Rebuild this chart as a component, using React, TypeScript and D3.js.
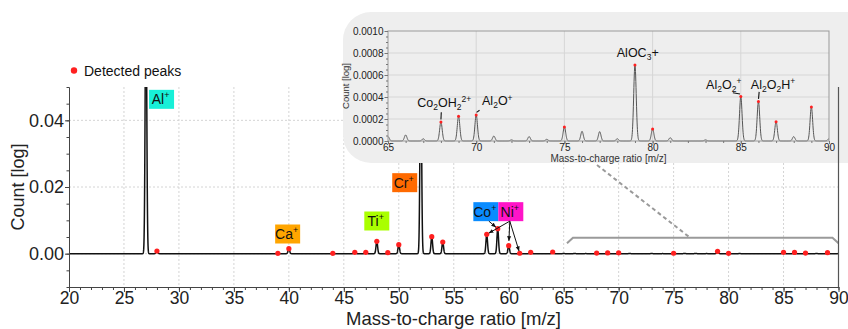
import { useEffect, useRef } from 'react'
import * as d3 from 'd3'

// spectrum: peak centres (m/z) and their counts
const PEAK_MZ = [27, 28, 39, 40, 44, 46, 47, 48, 49, 50, 52, 53, 54, 58, 59, 60, 61, 62, 64,
  65, 66, 67, 68, 69, 70, 71, 72, 73, 74, 75, 76, 77, 78, 79, 80, 81, 83, 85, 86, 87, 88, 89, 90]
const PEAK_COUNT = [0.08, 0.0008, 0.0001, 0.0015, 0.0001, 0.0004, 0.0004, 0.0037, 0.0003, 0.0027, 0.06, 0.0051, 0.0035, 0.0058, 0.0075, 0.0024, 0.00012, 0.0004, 0.0005,
  0.00004, 0.000055, 0.00002, 0.000173, 0.000225, 0.000237, 0.000045, 0.00001, 0.00004, 0.000015, 0.000128, 0.000088, 0.000085, 0.00002, 0.00069, 0.00011, 0.00003, 0.00001, 0.000405, 0.00036, 0.000176, 0.00004, 0.00031, 0.00002]
const DETECTED_MZ = [28, 39, 40, 44, 46, 47, 48, 49, 50, 53, 54, 58, 59, 60, 61, 62, 64, 68, 69, 70, 75, 79, 80, 85, 86, 87, 89]

const X_TICKS = [20, 25, 30, 35, 40, 45, 50, 55, 60, 65, 70, 75, 80, 85, 90]
const Y_TICKS = [0, 0.02, 0.04]
const INSET_X_TICKS = [65, 70, 75, 80, 85, 90]
const INSET_Y_TICKS = [0, 0.0002, 0.0004, 0.0006, 0.0008, 0.001]

const ION_NAMES = ['Al', 'Ca', 'Ti', 'Cr', 'Co', 'Ni']
const ION_COLORS = ['#17f0d8', '#ffa500', '#aaff00', '#ff6a00', '#0a8cff', '#ff14c8']
const ION_ARROW_FROM = ['Co', 'Ni', 'Ni', 'Ni']
const ION_ARROW_TO = [59, 58, 60, 61]

type Seg = [string, number]
const INSET_NAMES: Seg[][] = [
  [['Co', 0], ['2', -1], ['OH', 0], ['2', -1], ['2+', 1]],
  [['Al', 0], ['2', -1], ['O', 0], ['+', 1]],
  [['AlOC', 0], ['3', -1], ['+', 0]],
  [['Al', 0], ['2', -1], ['O', 0], ['2', -1], ['+', 1]],
  [['Al', 0], ['2', -1], ['O', 0], ['2', -1], ['H', 0], ['+', 1]],
]
const INSET_NAME_PEAK = [68, 70, 79, 85, 86]

const FONT = "'Liberation Sans', Arial, sans-serif"
const SIGMA = 0.072

function countAt(mz: number) {
  return d3.sum(PEAK_MZ, (c, i) => PEAK_COUNT[i] * Math.exp(-((mz - c) ** 2) / (2 * SIGMA * SIGMA)))
}
function peakOf(mz: number) { return PEAK_COUNT[PEAK_MZ.indexOf(mz)] }

function rich(sel: d3.Selection<SVGTextElement, unknown, null, undefined>, segs: Seg[], size: number) {
  let cur = 0
  segs.forEach(([t, lvl]) => {
    const target = lvl === 1 ? -size * 0.38 : lvl === -1 ? size * 0.22 : 0
    sel.append('tspan').attr('dy', target - cur).attr('font-size', lvl ? size * 0.68 : size).text(t)
    cur = target
  })
}

export default function App() {
  const svgRef = useRef<SVGSVGElement>(null)

  useEffect(() => {
    if (!svgRef.current) return
    const svg = d3.select(svgRef.current)
    svg.selectAll('*').remove()
    svg.attr('font-family', FONT)

    const x = d3.scaleLinear().domain([20, 90]).range([69, 838.5])
    const y = d3.scaleLinear().domain([-0.01, 0.05]).range([287, 87])
    const defs = svg.append('defs')
    defs.append('clipPath').attr('id', 'mainClip').append('rect')
      .attr('x', 69).attr('y', 87).attr('width', 770).attr('height', 200)
    defs.append('marker').attr('id', 'arr').attr('viewBox', '0 0 10 10').attr('refX', 9).attr('refY', 5)
      .attr('markerWidth', 5).attr('markerHeight', 5).attr('orient', 'auto')
      .append('path').attr('d', 'M0,1 L10,5 L0,9 z').attr('fill', '#111')

    // grid
    const grid = svg.append('g')
    X_TICKS.slice(1, -1).forEach(v => grid.append('line').attr('x1', x(v)).attr('x2', x(v)).attr('y1', 87).attr('y2', 287))
    Y_TICKS.forEach(v => grid.append('line').attr('x1', 69).attr('x2', 838).attr('y1', y(v)).attr('y2', y(v)))
    grid.selectAll('line').attr('stroke', '#d4d4d4').attr('stroke-dasharray', '2,2').attr('stroke-width', 1)

    // spectrum
    const xs = d3.range(20, 90.0001, 0.01)
    const line = d3.line<number>().x(v => x(v)).y(v => y(countAt(v)))
    svg.append('path').datum(xs).attr('clip-path', 'url(#mainClip)')
      .attr('fill', 'none').attr('stroke', '#111').attr('stroke-width', 1.5).attr('d', line)

    // detected peaks
    svg.append('g').selectAll('circle').data(DETECTED_MZ).join('circle')
      .attr('cx', d => x(d)).attr('cy', d => y(peakOf(d))).attr('r', 2.6).attr('fill', '#ff2020')

    // axes
    const axStyle = (g: d3.Selection<SVGGElement, unknown, null, undefined>) => {
      g.selectAll('path,line').attr('stroke', '#444')
      g.selectAll('text').attr('fill', '#222').attr('font-family', FONT)
    }
    svg.append('g').attr('transform', 'translate(0,287)')
      .call(d3.axisBottom(x).tickValues(d3.range(20, 91, 1)).tickSize(3).tickFormat(() => '').tickSizeOuter(0)).call(axStyle)
    svg.append('g').attr('transform', 'translate(0,287)')
      .call(d3.axisBottom(x).tickValues(X_TICKS).tickSize(5).tickPadding(0).tickSizeOuter(0)).call(axStyle)
      .selectAll('text').attr('font-size', 17.5)
    svg.append('g').attr('transform', 'translate(69,0)')
      .call(d3.axisLeft(y).tickValues(d3.range(-0.01, 0.0501, 0.005)).tickSize(2.5).tickFormat(() => '').tickSizeOuter(0)).call(axStyle)
    svg.append('g').attr('transform', 'translate(69,0)')
      .call(d3.axisLeft(y).tickValues(Y_TICKS).tickSize(4).tickPadding(1).tickFormat(d3.format('.2f')).tickSizeOuter(0)).call(axStyle)
      .selectAll('text').attr('font-size', 18)

    svg.append('text').attr('x', 453.5).attr('y', 325).attr('text-anchor', 'middle')
      .attr('font-size', 18.5).attr('fill', '#222').text('Mass-to-charge ratio [m/z]')
    svg.append('text').attr('transform', 'rotate(-90)').attr('x', -187).attr('y', 24).attr('text-anchor', 'middle')
      .attr('font-size', 18).attr('fill', '#222').text('Count [log]')

    // legend
    svg.append('circle').attr('cx', 74).attr('cy', 70.5).attr('r', 3.2).attr('fill', '#ff2020')
    svg.append('text').attr('x', 84).attr('y', 75.5).attr('font-size', 14).attr('fill', '#111').text('Detected peaks')

    // ion labels
    const ionX = [28.42, 39.89, 48.0, 50.54, 57.92, 60.19]
    const ionY = [0.0463, 0.0059, 0.0098, 0.0213, 0.0126, 0.0126]
    ION_NAMES.forEach((n, i) => {
      const cx = x(ionX[i]), cy = y(ionY[i])
      svg.append('rect').attr('x', cx - 12.5).attr('y', cy - 9.5).attr('width', 25).attr('height', 19).attr('fill', ION_COLORS[i])
      const t = svg.append('text').attr('x', cx - 1).attr('y', cy + 5).attr('text-anchor', 'middle').attr('fill', '#111')
      t.append('tspan').attr('font-size', 14).text(n)
      t.append('tspan').attr('font-size', 9).attr('dy', -6).text('+')
    })
    ION_ARROW_FROM.forEach((n, i) => {
      const k = ION_NAMES.indexOf(n)
      const sx = x(ionX[k]) + (n === 'Co' ? 3 : -1), sy = y(ionY[k]) + 9.5
      const tx = x(ION_ARROW_TO[i]), ty = y(peakOf(ION_ARROW_TO[i]))
      const len = Math.hypot(tx - sx, ty - sy), cut = ION_ARROW_TO[i] === 60 ? 5 : 2.5
      svg.append('line').attr('x1', sx).attr('y1', sy)
        .attr('x2', tx - (tx - sx) / len * cut).attr('y2', ty - (ty - sy) / len * cut)
        .attr('stroke', '#111').attr('stroke-width', 1).attr('marker-end', 'url(#arr)')
    })

    // bracket + callout
    const bx0 = x(65.3), bx1 = x(90), by = y(0.0048), bf = y(0.0031)
    svg.append('path').attr('d', `M${bx0},${bf} L${bx0 + 6},${by} L${bx1 - 6},${by} L${bx1},${bf}`)
      .attr('fill', 'none').attr('stroke', '#9a9a9a').attr('stroke-width', 2)
    svg.append('line').attr('x1', 597).attr('y1', 165).attr('x2', x(76.5)).attr('y2', by)
      .attr('stroke', '#9a9a9a').attr('stroke-width', 2).attr('stroke-dasharray', '4,3')

    // inset
    const ix = d3.scaleLinear().domain([65, 90]).range([388, 829])
    const iy = d3.scaleLinear().domain([0, 0.001]).range([141, 31])
    const ins = svg.append('g')
    ins.append('rect').attr('x', 343).attr('y', 12).attr('width', 535).attr('height', 151).attr('rx', 28).attr('fill', '#eeeeee')
    INSET_X_TICKS.slice(1, -1).forEach(v => ins.append('line').attr('x1', ix(v)).attr('x2', ix(v)).attr('y1', 31).attr('y2', 141).attr('stroke', '#d6d6d6'))
    INSET_Y_TICKS.slice(1, -1).forEach(v => ins.append('line').attr('x1', 388).attr('x2', 829).attr('y1', iy(v)).attr('y2', iy(v)).attr('stroke', '#d6d6d6'))
    const ixs = d3.range(65, 90.0001, 0.01)
    ins.append('path').datum(ixs).attr('fill', 'none').attr('stroke', '#555').attr('stroke-width', 1)
      .attr('d', d3.line<number>().x(v => ix(v)).y(v => iy(countAt(v))))
    ins.append('rect').attr('x', 388).attr('y', 31).attr('width', 441).attr('height', 110)
      .attr('fill', 'none').attr('stroke', '#999')
    ins.selectAll('circle.d').data(DETECTED_MZ.filter(d => d >= 65)).join('circle')
      .attr('cx', d => ix(d)).attr('cy', d => iy(peakOf(d))).attr('r', 1.5).attr('fill', '#ff2020')

    const inStyle = (g: d3.Selection<SVGGElement, unknown, null, undefined>) => {
      g.selectAll('path,line').attr('stroke', '#777')
      g.selectAll('text').attr('fill', '#222').attr('font-family', FONT).attr('font-size', 10)
      g.select('.domain').remove()
    }
    ins.append('g').attr('transform', 'translate(0,141)')
      .call(d3.axisBottom(ix).tickValues(d3.range(65, 91, 1)).tickSize(2).tickFormat(() => '')).call(inStyle)
    ins.append('g').attr('transform', 'translate(0,141)')
      .call(d3.axisBottom(ix).tickValues(INSET_X_TICKS).tickSize(3).tickPadding(0)).call(inStyle)
    ins.append('g').attr('transform', 'translate(388,0)')
      .call(d3.axisLeft(iy).tickValues(d3.range(0, 0.00101, 0.00005)).tickSize(2).tickFormat(() => '')).call(inStyle)
    ins.append('g').attr('transform', 'translate(388,0)')
      .call(d3.axisLeft(iy).tickValues(INSET_Y_TICKS).tickSize(3.5).tickPadding(1).tickFormat(d3.format('.4f'))).call(inStyle)
    ins.append('text').attr('x', 608.5).attr('y', 162).attr('text-anchor', 'middle').attr('font-size', 10)
      .attr('fill', '#333').text('Mass-to-charge ratio [m/z]')
    ins.append('text').attr('transform', 'rotate(-90)').attr('x', -86).attr('y', 349).attr('text-anchor', 'middle')
      .attr('font-size', 9.5).attr('fill', '#333').text('Count [log]')

    // inset annotations: text left / baseline, leader start
    const annX = [66.66, 70.33, 77.97, 83.03, 85.57]
    const annY = [0.000307, 0.000325, 0.000763, 0.000471, 0.000471]
    const leadX = [68.02, 70.19, null, 84.55, 86.04]
    const leadY = [0.000262, 0.00028, null, 0.000438, 0.000447]
    INSET_NAMES.forEach((segs, i) => {
      const t = ins.append('text').attr('x', ix(annX[i])).attr('y', iy(annY[i])).attr('fill', '#111')
      rich(t, segs, 12.5)
      const lx = leadX[i], ly = leadY[i]
      if (lx == null || ly == null) return
      const pk = INSET_NAME_PEAK[i]
      ins.append('line').attr('x1', ix(lx)).attr('y1', iy(ly))
        .attr('x2', ix(pk) + (ix(lx) - ix(pk)) * 0.1).attr('y2', iy(peakOf(pk)) - 2.5)
        .attr('stroke', '#111').attr('stroke-width', 1.1)
    })

    // right frame of main plot over inset
    svg.append('line').attr('x1', 838.5).attr('x2', 838.5).attr('y1', 87).attr('y2', 287)
      .attr('stroke', '#555').attr('stroke-width', 1.2)
  }, [])

  return (
    <svg ref={svgRef} width={848} height={329}
      style={{ position: 'absolute', left: 0, top: 0, background: '#fff' }} />
  )
}
